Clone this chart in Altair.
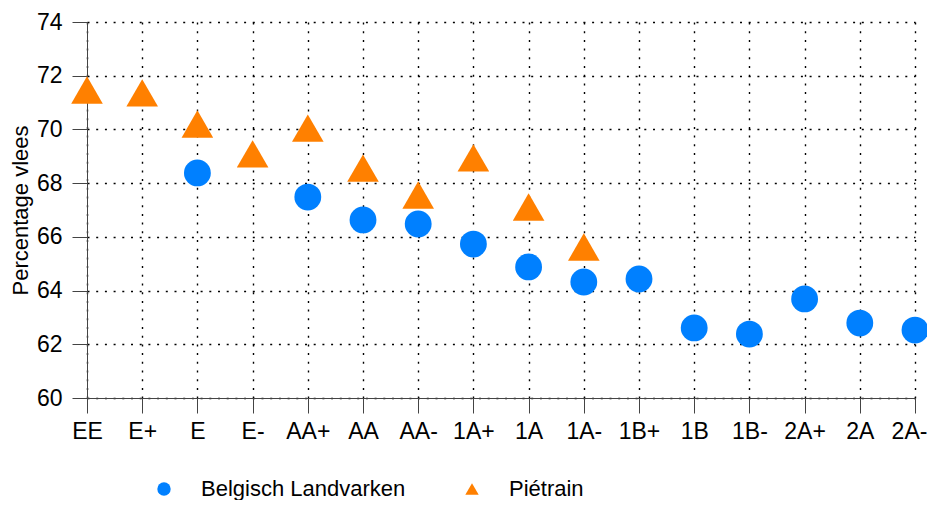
import altair as alt
import pandas as pd

categories = ["EE", "E+", "E", "E-", "AA+", "AA", "AA-", "1A+", "1A", "1A-",
              "1B+", "1B", "1B-", "2A+", "2A", "2A-"]

bl_cats = ["E", "AA+", "AA", "AA-", "1A+", "1A", "1A-", "1B+", "1B", "1B-", "2A+", "2A", "2A-"]
bl_vals = [68.38, 67.48, 66.63, 66.48, 65.73, 64.88, 64.32, 64.43, 62.61, 62.38, 63.69, 62.79, 62.53]

pi_cats = ["EE", "E+", "E", "E-", "AA+", "AA", "AA-", "1A+", "1A", "1A-"]
pi_vals = [71.47, 71.36, 70.20, 69.09, 70.05, 68.56, 67.56, 68.94, 67.11, 65.62]

series = ["Belgisch Landvarken", "Piétrain"]
colors = ["#0080FF", "#FF8000"]
shapes = ["circle", "triangle-up"]
mark_sizes = [720, 1000]

df = pd.concat([
    pd.DataFrame({"klasse": bl_cats, "vlees": bl_vals, "ras": series[0]}),
    pd.DataFrame({"klasse": pi_cats, "vlees": pi_vals, "ras": series[1]}),
])

FONT = "Liberation Sans"
FS = 23

x_enc = alt.X("klasse:N", sort=categories,
              scale=alt.Scale(type="point", domain=categories, padding=0),
              axis=alt.Axis(title=None, labelAngle=0, labelFontSize=FS, labelColor="black",
                            labelFont=FONT, tickSize=15, tickColor="#444", domainColor="#444",
                            labelPadding=7, grid=True, gridColor="black", gridDash=[2, 6.7],
                            gridWidth=1.4, labelFlush=False,
                            labelOffset={"condition": {"test": "datum.value == '2A-'", "value": -6},
                                         "value": 0}))
y_enc = alt.Y("vlees:Q", scale=alt.Scale(domain=[60, 74], nice=False, zero=False),
              axis=alt.Axis(title="Percentage vlees", values=[60, 62, 64, 66, 68, 70, 72, 74],
                            labelFontSize=FS, labelColor="black", labelFont=FONT,
                            tickSize=15, tickColor="#444", domainColor="#444", labelPadding=10,
                            grid=True, gridColor="black", gridDash=[2, 6.7], gridWidth=1.4,
                            titleFont=FONT, titleFontSize=22, titleFontWeight="normal",
                            titleColor="black", titlePadding=4))
color_enc = alt.Color("ras:N", scale=alt.Scale(domain=series, range=colors),
                      legend=alt.Legend(title=None, orient="none", direction="horizontal",
                                        legendX=66, legendY=456, columns=2, padding=0,
                                        symbolSize=180, symbolStrokeWidth=0, symbolOpacity=1,
                                        labelFontSize=22, labelFont=FONT, labelLimit=0,
                                        labelColor="black", labelOffset=26, columnPadding=55))
shape_enc = alt.Shape("ras:N", scale=alt.Scale(domain=series, range=shapes))

base = alt.Chart(df)
layers = [
    base.transform_filter(alt.datum.ras == s)
    .mark_point(filled=True, opacity=1, size=sz)
    .encode(x=x_enc, y=y_enc, color=color_enc, shape=shape_enc)
    for s, sz in zip(series, mark_sizes)
]

chart = alt.layer(*layers).properties(
    width=828, height=376,
    padding={"left": 79, "top": 14, "right": 12, "bottom": 102},
    autosize=alt.AutoSizeParams(type="none"),
).configure_view(stroke=None)

chart.save("out.html", embed_options={"renderer": "svg", "actions": False})
